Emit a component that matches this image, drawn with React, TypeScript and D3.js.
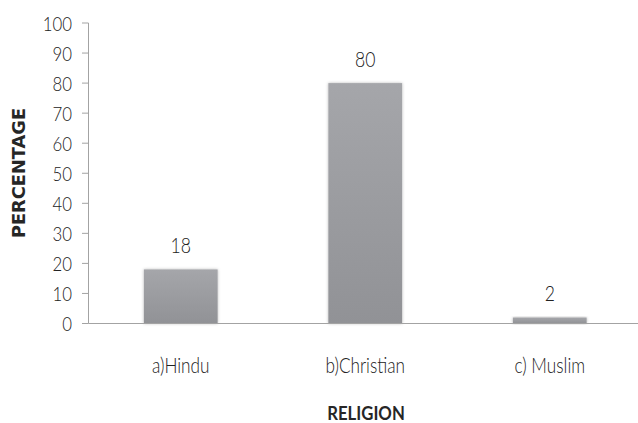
import React from "react";
import * as d3 from "d3";

const categories = ["a)Hindu", "b)Christian", "c) Muslim"];
const values = [18, 80, 2];
const yTicks = [0, 10, 20, 30, 40, 50, 60, 70, 80, 90, 100];
const yTitle = "PERCENTAGE";
const xTitle = "RELIGION";

const W = 638;
const H = 423;
const font = "Lato, 'Open Sans', sans-serif";
const SX = 0.82; // horizontal condensing

function T(props: {
  x: number;
  y: number;
  anchor: "start" | "middle" | "end";
  size: number;
  sx?: number;
  weight?: string;
  fill?: string;
  children: React.ReactNode;
}) {
  const sx = props.sx ?? SX;
  return (
    <text
      transform={`translate(${props.x},${props.y}) scale(${sx},1)`}
      textAnchor={props.anchor}
      fontFamily={font}
      fontSize={props.size}
      fontWeight={props.weight ?? "300"}
      fill={props.fill ?? "#222222"}
    >
      {props.children}
    </text>
  );
}

export default function App() {
  const x = d3
    .scaleBand<string>()
    .domain(categories)
    .range([88.5, 642])
    .paddingInner(0.6)
    .paddingOuter(0.3);
  const y = d3.scaleLinear().domain([0, 100]).range([323.5, 23]);
  const axisColor = "#a3a3a3";

  return (
    <svg
      width={W}
      height={H}
      style={{ position: "absolute", left: 0, top: 0, background: "#fff" }}
    >
      <defs>
        <linearGradient id="barGrad" x1="0" y1="0" x2="0" y2="1">
          <stop offset="0%" stopColor="#a5a6aa" />
          <stop offset="100%" stopColor="#919296" />
        </linearGradient>
        <filter id="shadow" x="-20%" y="-20%" width="140%" height="140%">
          <feDropShadow dx="0" dy="0" stdDeviation="1.6" floodColor="#000" floodOpacity="0.28" />
        </filter>
      </defs>

      {/* y axis */}
      <line x1={88.5} x2={88.5} y1={y(100)} y2={y(0)} stroke={axisColor} strokeWidth={1} />
      {yTicks.map((t) => (
        <g key={t}>
          <line x1={82} x2={88.5} y1={y(t)} y2={y(t)} stroke={axisColor} strokeWidth={1} />
          <T x={72} y={y(t) + 7.5} anchor="end" size={20.5}>
            {t}
          </T>
        </g>
      ))}

      {/* bars */}
      {categories.map((c, i) => (
        <g key={c}>
          <rect
            x={x(c)}
            y={y(values[i])}
            width={x.bandwidth()}
            height={y(0) - y(values[i])}
            fill="url(#barGrad)"
            filter="url(#shadow)"
          />
          <T x={(x(c) as number) + x.bandwidth() / 2} y={y(values[i]) - 16} anchor="middle" size={21.5}>
            {values[i]}
          </T>
          <T x={(x(c) as number) + x.bandwidth() / 2} y={372.5} anchor="middle" size={21}>
            {c}
          </T>
        </g>
      ))}

      {/* x axis */}
      <line x1={88.5} x2={W} y1={y(0)} y2={y(0)} stroke={axisColor} strokeWidth={1.2} />

      {/* titles */}
      <text
        transform={`translate(25,173) rotate(-90)`}
        textAnchor="middle"
        fontFamily="'DejaVu Sans', sans-serif"
        fontWeight="bold"
        fontSize={17.8}
        fill="#262626"
      >
        {yTitle}
      </text>
      <T x={366} y={419.5} anchor="middle" size={18} sx={0.93} weight="bold" fill="#262626">
        {xTitle}
      </T>
    </svg>
  );
}
